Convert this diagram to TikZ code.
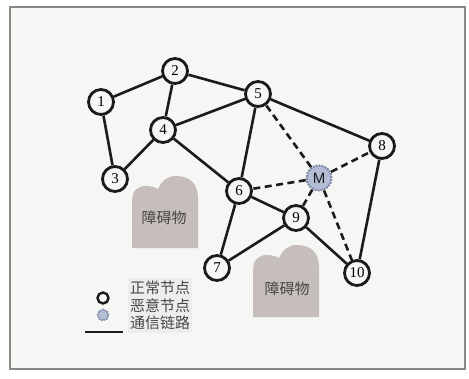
\documentclass[tikz,border=0pt]{standalone}
\usepackage{fontspec}
\setmainfont{Liberation Serif}
\newfontfamily\cjk{Noto Sans CJK SC}
\newfontfamily\labelsans{Liberation Sans}
\usetikzlibrary{positioning}

\definecolor{paper}{HTML}{F6F6F4}
\definecolor{framegray}{HTML}{8E8682}
\definecolor{linecol}{HTML}{1C1A1A}
\definecolor{roguefill}{HTML}{B3BED6}
\definecolor{roguedot}{HTML}{7C88A6}
\definecolor{rockgray}{HTML}{C6BEBA}
\definecolor{keybg}{HTML}{EDEDEB}
\definecolor{textgray}{HTML}{4A4646}

\begin{document}
\begin{tikzpicture}[
    x=1pt, y=-1pt,
    font=\fontsize{15}{17}\selectfont,
    station/.style={circle, draw=linecol, line width=2.8pt, fill=paper, minimum size=25pt, inner sep=0pt},
    rogue/.style={circle, draw=roguedot, densely dotted, line width=2pt, fill=roguefill, minimum size=25pt, inner sep=0pt, font=\labelsans\fontsize{15}{17}\selectfont, text=linecol},
    link/.style={line width=2.6pt, draw=linecol},
    badlink/.style={link, dash pattern=on 7pt off 4.5pt},
    obstacle/.style={fill=rockgray},
    rocklabel/.style={font=\cjk\fontsize{15}{17}\selectfont, text=textgray}
]

\useasboundingbox (0,0) rectangle (469,378);
\fill[white] (0,0) rectangle (469,378);
\draw[framegray, line width=1.5pt, fill=paper] (10,7) rectangle (465,369);

% obstacles
\begin{scope}[shift={(132,176)}]
  \fill[obstacle] (0,72) -- (0,26) .. controls (0,14) and (6,10) .. (14,10)
    .. controls (20,10) and (24,12) .. (26,13) .. controls (30,4) and (36,0) .. (44,0)
    .. controls (58,0) and (66,8) .. (66,22) -- (66,72) -- cycle;
\end{scope}
\begin{scope}[shift={(253,245)}]
  \fill[obstacle] (0,72) -- (0,26) .. controls (0,14) and (6,10) .. (14,10)
    .. controls (20,10) and (24,12) .. (26,13) .. controls (30,4) and (36,0) .. (44,0)
    .. controls (58,0) and (66,8) .. (66,22) -- (66,72) -- cycle;
\end{scope}
\node[rocklabel] (rockA) at (164,218) {障碍物};
\node[rocklabel] (rockB) at (287,289) {障碍物};

% sensor nodes
\node[station] (n1) at (101,102) {1};
\node[station] (n2) at (175,71) {2};
\node[station] (n3) at (115,179) {3};
\node[station] (n4) at (163,130) {4};
\node[station] (n5) at (258,94) {5};
\node[station] (n6) at (239,191) {6};
\node[station] (n7) at (217,268) {7};
\node[station] (n8) at (382,146) {8};
\node[station] (n9) at (296,218) {9};
\node[station] (n10) at (357,273) {10};
\node[rogue] (m) at (319,178) {M};

% normal links
\draw[link] (n1) -- (n2);
\draw[link] (n1) -- (n3);
\draw[link] (n2) -- (n4);
\draw[link] (n2) -- (n5);
\draw[link] (n3) -- (n4);
\draw[link] (n4) -- (n5);
\draw[link] (n4) -- (n6);
\draw[link] (n5) -- (n6);
\draw[link] (n5) -- (n8);
\draw[link] (n6) -- (n7);
\draw[link] (n6) -- (n9);
\draw[link] (n7) -- (n9);
\draw[link] (n9) -- (n10);
\draw[link] (n8) -- (n10);

% links to the malicious node
\draw[badlink] (m) -- (n5);
\draw[badlink] (m) -- (n8);
\draw[badlink] (m) -- (n6);
\draw[badlink] (m) -- (n9);
\draw[badlink] (m) -- (n10);

% legend
\node[station, minimum size=11pt, line width=2.4pt] (keyok) at (103,298) {};
\node[rogue, minimum size=11pt, line width=1.6pt] (keybad) at (103,315) {};
\coordinate (keya) at (85,332);
\coordinate (keyb) at (123,332);
\draw[link, line width=1.8pt] (keya) -- (keyb);
\node[fill=keybg, anchor=north west, inner xsep=2pt, inner ysep=3pt, align=left,
      font=\cjk\fontsize{15}{17.5}\selectfont, text=textgray] (keytext) at (128,278)
  {正常节点\\恶意节点\\通信链路};

\end{tikzpicture}
\end{document}
